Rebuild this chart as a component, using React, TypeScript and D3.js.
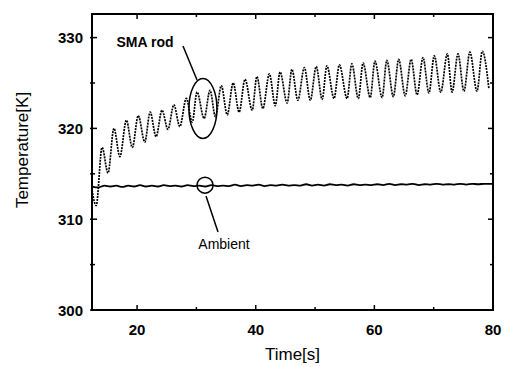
import React, { useEffect, useRef } from 'react';
import * as d3 from 'd3';

// SMA rod temperature: successive peaks and troughs
const smaTime = [
  12.4, 13.1, 14.1, 15.1, 16.1, 17.1, 18.2, 19.2, 20.2, 21.3,
  22.2, 23.2, 24.2, 25.2, 26.2, 27.2, 28.3, 29.3, 30.1, 31.3,
  32.3, 33.2, 34.2, 35.2, 36.2, 37.2, 38.2, 39.4, 40.2, 41.2,
  42.3, 43.3, 44.1, 45.3, 46.1, 47.1, 48.2, 49.2, 50.2, 51.2,
  52.0, 53.2, 54.1, 55.4, 56.2, 57.3, 58.1, 59.3, 60.1, 61.3,
  62.1, 63.2, 64.1, 65.2, 66.2, 67.2, 68.2, 69.2, 70.1, 71.2,
  72.3, 73.1, 74.1, 75.1, 76.1, 77.3, 78.2, 79.3
];
const smaTemp = [
  313.2, 311.5, 317.9, 315.1, 320.0, 316.9, 320.9, 317.9, 321.4, 318.5,
  321.8, 319.1, 322.0, 319.9, 322.6, 320.2, 323.3, 320.7, 324.0, 321.1,
  324.2, 321.3, 324.7, 321.5, 325.0, 321.8, 325.4, 322.0, 325.7, 322.2,
  326.0, 322.5, 326.2, 322.8, 326.5, 323.1, 326.7, 323.1, 326.8, 323.2,
  326.9, 323.3, 327.0, 323.3, 327.1, 323.3, 327.2, 323.4, 327.4, 323.4,
  327.5, 323.5, 327.6, 323.6, 327.6, 323.7, 327.8, 323.9, 328.0, 324.0,
  328.2, 324.0, 328.2, 324.1, 328.4, 324.1, 328.5, 324.4
];

// Ambient temperature (nearly flat, small ripple)
const ambientTime = [
  12.4, 13.5, 14.5, 15.5, 16.5, 17.5, 18.5, 19.5, 20.5, 21.5,
  22.5, 23.5, 24.5, 25.5, 26.5, 27.5, 28.5, 29.5, 30.5, 31.5,
  32.5, 33.5, 34.5, 35.5, 36.5, 37.5, 38.5, 39.5, 40.5, 41.5,
  42.5, 43.5, 44.5, 45.5, 46.5, 47.5, 48.5, 49.5, 50.5, 51.5,
  52.5, 53.5, 54.5, 55.5, 56.5, 57.5, 58.5, 59.5, 60.5, 61.5,
  62.5, 63.5, 64.5, 65.5, 66.5, 67.5, 68.5, 69.5, 70.5, 71.5,
  72.5, 73.5, 74.5, 75.5, 76.5, 77.5, 78.5, 80.0
];
const ambientTemp = [
  313.6, 313.5, 313.7, 313.6, 313.7, 313.55, 313.7, 313.6, 313.75, 313.6,
  313.7, 313.6, 313.75, 313.65, 313.7, 313.6, 313.75, 313.65, 313.7, 313.6,
  313.75, 313.65, 313.7, 313.65, 313.8, 313.65, 313.75, 313.7, 313.8, 313.65,
  313.75, 313.7, 313.8, 313.7, 313.75, 313.7, 313.85, 313.7, 313.8, 313.7,
  313.85, 313.75, 313.8, 313.7, 313.85, 313.75, 313.8, 313.75, 313.85, 313.75,
  313.9, 313.75, 313.85, 313.8, 313.9, 313.75, 313.85, 313.8, 313.9, 313.8,
  313.85, 313.8, 313.9, 313.8, 313.9, 313.85, 313.9, 313.9
];

const xMajor = [20, 40, 60, 80];
const xMinor = [30, 50, 70];
const yMajor = [300, 310, 320, 330];
const yMinor = [305, 315, 325];

export default function App() {
  const svgRef = useRef<SVGSVGElement>(null);

  useEffect(() => {
    if (!svgRef.current) return;
    const svg = d3.select(svgRef.current);
    svg.selectAll('*').remove();

    const left = 92, right = 493, top = 14, bottom = 310;
    const x = d3.scaleLinear().domain([12.4, 80]).range([left, right]);
    const y = d3.scaleLinear().domain([300, 332.6]).range([bottom, top]);
    const font = '"Liberation Sans", Arial, sans-serif';

    // ticks (inward, mirrored on all sides)
    const g = svg.append('g').attr('stroke', '#000').attr('stroke-width', 1.5);
    const tick = (vals: number[], len: number) => {
      vals.forEach(v => {
        g.append('line').attr('x1', x(v)).attr('x2', x(v)).attr('y1', bottom).attr('y2', bottom - len);
        g.append('line').attr('x1', x(v)).attr('x2', x(v)).attr('y1', top).attr('y2', top + len);
      });
    };
    const ytick = (vals: number[], len: number) => {
      vals.forEach(v => {
        g.append('line').attr('x1', left - 2).attr('x2', left + len).attr('y1', y(v)).attr('y2', y(v));
        g.append('line').attr('x1', right - len).attr('x2', right).attr('y1', y(v)).attr('y2', y(v));
      });
    };
    tick(xMajor, 5);
    tick(xMinor, 3);
    ytick(yMajor, 5);
    ytick(yMinor, 3);

    // ambient line
    const ambLine = d3.line<number>()
      .x((d, i) => x(ambientTime[i]))
      .y(d => y(d))
      .curve(d3.curveMonotoneX);
    svg.append('path')
      .attr('d', ambLine(ambientTemp))
      .attr('fill', 'none')
      .attr('stroke', '#000')
      .attr('stroke-width', 1.8);

    // SMA rod trace (dotted)
    const smaLine = d3.line<number>()
      .x((d, i) => x(smaTime[i]))
      .y(d => y(d))
      .curve(d3.curveMonotoneX);
    svg.append('path')
      .attr('d', smaLine(smaTemp))
      .attr('fill', 'none')
      .attr('stroke', '#000')
      .attr('stroke-width', 1.7)
      .attr('stroke-dasharray', '2,1');

    // frame
    svg.append('rect')
      .attr('x', left).attr('y', top)
      .attr('width', right - left).attr('height', bottom - top)
      .attr('fill', 'none').attr('stroke', '#000').attr('stroke-width', 2);

    // tick labels
    svg.append('g').selectAll('text').data(xMajor).enter().append('text')
      .attr('x', d => x(d)).attr('y', 335)
      .attr('text-anchor', 'middle')
      .style('font-family', font).style('font-size', '15px').style('font-weight', 'bold')
      .text(d => d);
    svg.append('g').selectAll('text').data(yMajor).enter().append('text')
      .attr('x', 83).attr('y', d => y(d) + 5.5)
      .attr('text-anchor', 'end')
      .style('font-family', font).style('font-size', '15px').style('font-weight', 'bold')
      .text(d => d);

    // axis titles
    svg.append('text')
      .attr('x', (left + right) / 2).attr('y', 360)
      .attr('text-anchor', 'middle')
      .style('font-family', font).style('font-size', '17px')
      .text('Time[s]');
    svg.append('text')
      .attr('transform', `translate(28,150) rotate(-90)`)
      .attr('text-anchor', 'middle')
      .style('font-family', font).style('font-size', '17px')
      .text('Temperature[K]');

    // annotations
    const ann = svg.append('g').attr('fill', 'none').attr('stroke', '#000').attr('stroke-width', 1.5);
    ann.append('ellipse')
      .attr('cx', x(31.1)).attr('cy', y(322.2)).attr('rx', 14).attr('ry', 30);
    ann.append('line').attr('x1', 183).attr('y1', 46).attr('x2', 197).attr('y2', 80);
    ann.append('circle')
      .attr('cx', x(31.45)).attr('cy', y(313.75)).attr('r', 8);
    ann.append('line').attr('x1', 206).attr('y1', 196).attr('x2', 218).attr('y2', 232);

    svg.append('text')
      .attr('x', 145).attr('y', 47)
      .attr('text-anchor', 'middle')
      .style('font-family', font).style('font-size', '14px').style('font-weight', 'bold')
      .text('SMA rod');
    svg.append('text')
      .attr('x', 224).attr('y', 249)
      .attr('text-anchor', 'middle')
      .style('font-family', font).style('font-size', '14px')
      .text('Ambient');
  }, []);

  return (
    <svg
      ref={svgRef}
      width={510}
      height={367}
      style={{ position: 'absolute', left: 0, top: 0, background: '#fff' }}
    />
  );
}
